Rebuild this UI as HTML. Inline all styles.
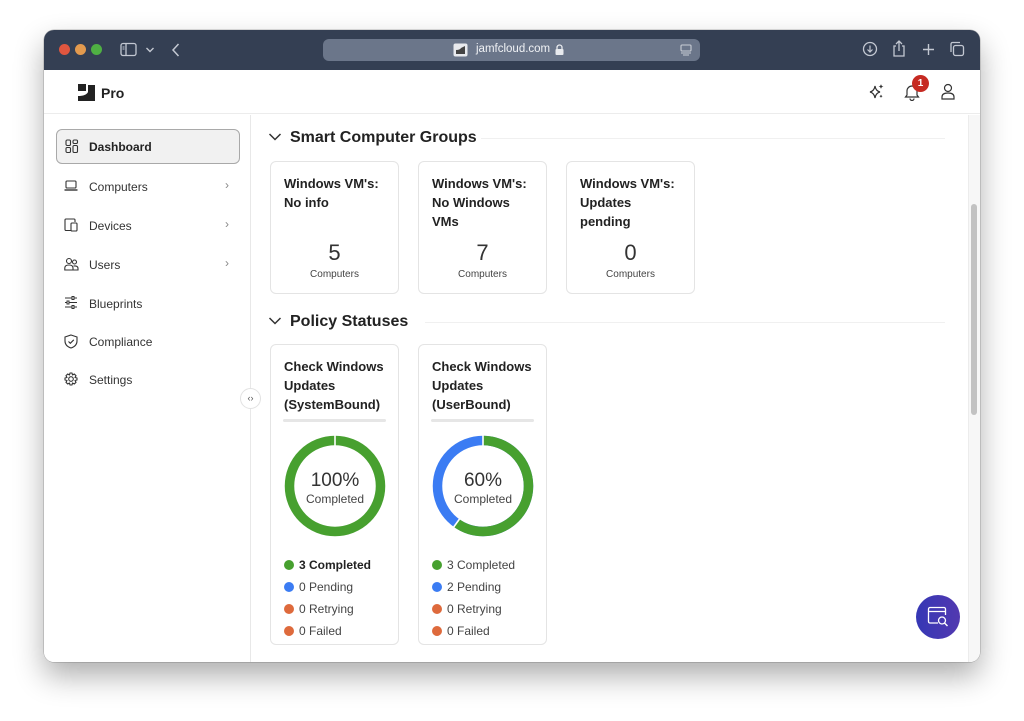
<!DOCTYPE html>
<html><head><meta charset="utf-8">
<style>
*{margin:0;padding:0;box-sizing:border-box}
html,body{width:1024px;height:721px;background:#fff;overflow:hidden;font-family:"Liberation Sans",Arial,sans-serif;color:#222}
.win{position:absolute;left:44px;top:30px;width:936px;height:632px;border-radius:10px;background:#fff;overflow:hidden;box-shadow:0 14px 30px rgba(0,0,0,0.32),0 0 0 0.5px rgba(0,0,0,0.25)}
.tb{position:absolute;left:0;top:0;width:936px;height:40px;background:#343f53}
.a{position:absolute}
.light{position:absolute;top:14px;width:11px;height:11px;border-radius:50%}
.url{position:absolute;left:279px;top:9px;width:377px;height:22px;border-radius:6px;background:#6b768a}
.hdr{position:absolute;left:0;top:40px;width:936px;height:44px;background:#fff;border-bottom:1px solid #ececec}
.side{position:absolute;left:0;top:85px;width:207px;height:547px;border-right:1px solid #e8e8e8;background:#fff}
.nav{position:absolute;left:12px;width:184px;height:35px;font-size:12px;color:#333}
.nav .t{position:absolute;left:33px;top:11px}
.nav svg.i{position:absolute;left:8px;top:10px}
.nav .ch{position:absolute;left:169px;top:9px;color:#888;font-size:12px}
.card{position:absolute;background:#fff;border:1px solid #e4e4e4;border-radius:6px}
.ct{position:absolute;left:13px;top:12px;font-size:13px;font-weight:bold;line-height:19px;color:#222;width:115px}
.num{position:absolute;left:0;width:127px;text-align:center;font-size:22px;color:#333;font-weight:300}
.cmp{position:absolute;left:0;width:127px;text-align:center;font-size:10px;color:#444}
.sec{position:absolute;font-size:16px;font-weight:bold;color:#222}
.leg{position:absolute;left:13px;font-size:12px;color:#444}
.leg span.d{display:inline-block;width:10px;height:10px;border-radius:50%;vertical-align:-1px;margin-right:5px}
</style></head><body>
<div class="win">
  <div class="tb">
    <div class="light" style="left:15px;background:#e0563f"></div>
    <div class="light" style="left:31px;background:#e39a4e"></div>
    <div class="light" style="left:47px;background:#4fb043"></div>
    <svg class="a" style="left:76px;top:12px" width="20" height="16"><rect x="1" y="1.5" width="15" height="12" rx="2" fill="none" stroke="#c3c8d2" stroke-width="1.3"/><line x1="6" y1="2" x2="6" y2="13" stroke="#c3c8d2" stroke-width="1.3"/><line x1="2.5" y1="5" x2="4.5" y2="5" stroke="#c3c8d2"/><line x1="2.5" y1="7" x2="4.5" y2="7" stroke="#c3c8d2"/></svg>
    <svg class="a" style="left:101px;top:16px" width="10" height="8"><path d="M1.5 2 L5 5.5 L8.5 2" fill="none" stroke="#c3c8d2" stroke-width="1.4"/></svg>
    <svg class="a" style="left:127px;top:12px" width="10" height="16"><path d="M7.5 2 L2 8 L7.5 14" fill="none" stroke="#c3c8d2" stroke-width="1.5"/></svg>
    <div class="url">
      <svg class="a" style="left:130px;top:4px" width="15" height="14"><rect x="0.5" y="0.5" width="14" height="13" rx="2" fill="#e8eaee"/><path d="M3 11 L3 7 Q7 7 8 5 L12 3 L12 11 Z" fill="#444"/></svg>
      <div class="a" style="left:153px;top:4px;font-size:11.5px;color:#f0f2f5">jamfcloud.com</div>
      <svg class="a" style="left:232px;top:5px" width="9" height="11"><rect x="0.5" y="5" width="8" height="6" rx="1" fill="#e8eaee"/><path d="M2 5 V3.5 A2.5 2.5 0 0 1 7 3.5 V5" fill="none" stroke="#e8eaee" stroke-width="1.3"/></svg>
      <svg class="a" style="left:357px;top:5px" width="12" height="12"><rect x="1" y="1" width="10" height="6" rx="1" fill="none" stroke="#c9cdd5" stroke-width="1.1"/><line x1="1" y1="9" x2="11" y2="9" stroke="#c9cdd5"/><line x1="3" y1="11" x2="9" y2="11" stroke="#c9cdd5"/></svg>
    </div>
    <svg class="a" style="left:818px;top:11px" width="16" height="16"><circle cx="8" cy="8" r="6.5" fill="none" stroke="#c3c8d2" stroke-width="1.3"/><path d="M8 4.5 V11 M5.5 8.5 L8 11 L10.5 8.5" fill="none" stroke="#c3c8d2" stroke-width="1.2"/></svg>
    <svg class="a" style="left:848px;top:9px" width="14" height="19"><path d="M4 7 H2 V17 H12 V7 H10" fill="none" stroke="#c3c8d2" stroke-width="1.3"/><path d="M7 12 V2 M4 5 L7 2 L10 5" fill="none" stroke="#c3c8d2" stroke-width="1.3"/></svg>
    <svg class="a" style="left:878px;top:13px" width="13" height="13"><path d="M6.5 1 V12 M1 6.5 H12" stroke="#c3c8d2" stroke-width="1.4"/></svg>
    <svg class="a" style="left:905px;top:11px" width="16" height="16"><rect x="4.5" y="4.5" width="10" height="10" rx="2" fill="none" stroke="#c3c8d2" stroke-width="1.3"/><path d="M2 11 V3 A1.5 1.5 0 0 1 3.5 1.5 H11" fill="none" stroke="#c3c8d2" stroke-width="1.3"/></svg>
  </div>
  <div class="hdr">
    <svg class="a" style="left:34px;top:14px" width="18" height="17"><path d="M0 0 H8 V7 H0 Z" fill="#222"/><path d="M10 1 H17 V17 H0 V12 Q8 12 10 8 Z" fill="#222"/></svg>
    <div class="a" style="left:57px;top:15px;font-size:14px;font-weight:bold;color:#222">Pro</div>
    <svg class="a" style="left:824px;top:13px" width="17" height="17"><path d="M7 3 Q7.8 8 12 9 Q7.8 10 7 15 Q6.2 10 2 9 Q6.2 8 7 3Z" fill="none" stroke="#333" stroke-width="1.2"/><path d="M13 1 Q13.3 3.2 15.5 3.5 Q13.3 3.8 13 6 Q12.7 3.8 10.5 3.5 Q12.7 3.2 13 1Z" fill="#333"/><path d="M13 11.5 Q13.2 13 14.5 13.2 Q13.2 13.5 13 15 Q12.8 13.5 11.5 13.2 Q12.8 13 13 11.5Z" fill="#333"/></svg>
    <svg class="a" style="left:860px;top:13px" width="16" height="18"><path d="M3 12 V8 A5 5 0 0 1 13 8 V12 L14.5 14 H1.5 Z" fill="none" stroke="#333" stroke-width="1.2"/><path d="M6 15.5 A2 2 0 0 0 10 15.5" fill="none" stroke="#333" stroke-width="1.2"/></svg>
    <div class="a" style="left:868px;top:5px;width:17px;height:17px;border-radius:50%;background:#c62a22;color:#fff;font-size:10px;font-weight:bold;text-align:center;line-height:17px">1</div>
    <svg class="a" style="left:897px;top:13px" width="14" height="17"><circle cx="7" cy="5" r="3.5" fill="none" stroke="#333" stroke-width="1.2"/><path d="M1 16 V14 Q1 10 7 10 Q13 10 13 14 V16 Z" fill="none" stroke="#333" stroke-width="1.2"/></svg>
  </div>
  <div class="side">
    <div class="nav" style="top:14px;background:#f1f1f1;border:1px solid #a9a9a9;border-radius:6px">
      <svg class="i" style="top:9px;left:8px" width="14" height="15"><rect x="1" y="1" width="4.5" height="5.5" rx="1.2" fill="none" stroke="#333" stroke-width="1.1"/><rect x="8" y="1" width="4.5" height="3.5" rx="1.2" fill="none" stroke="#333" stroke-width="1.1"/><rect x="1" y="8.5" width="4.5" height="5" rx="1.2" fill="none" stroke="#333" stroke-width="1.1"/><rect x="8" y="6.5" width="4.5" height="7" rx="1.2" fill="none" stroke="#333" stroke-width="1.1"/></svg>
      <div class="t" style="left:32px;top:10px;font-weight:bold;color:#222">Dashboard</div>
    </div>
    <div class="nav" style="top:54px">
      <svg class="i" width="14" height="13"><rect x="2" y="2" width="10" height="7" rx="1" fill="none" stroke="#333" stroke-width="1.1"/><path d="M0.5 11 H13.5" stroke="#333" stroke-width="1.4"/></svg>
      <div class="t">Computers</div><div class="ch">›</div>
    </div>
    <div class="nav" style="top:93px">
      <svg class="i" width="14" height="14"><path d="M7 12.5 H2 A1 1 0 0 1 1 11.5 V2 A1 1 0 0 1 2 1 H10 A1 1 0 0 1 11 2 V4" fill="none" stroke="#333" stroke-width="1.1"/><rect x="7" y="5" width="6" height="8" rx="1" fill="none" stroke="#333" stroke-width="1.1"/></svg>
      <div class="t">Devices</div><div class="ch">›</div>
    </div>
    <div class="nav" style="top:132px">
      <svg class="i" width="15" height="14"><circle cx="5" cy="4" r="2.5" fill="none" stroke="#333" stroke-width="1.1"/><path d="M0.8 13 V11 Q0.8 8 5 8 Q9 8 9 11 V13 Z" fill="none" stroke="#333" stroke-width="1.1"/><circle cx="10.5" cy="5" r="2" fill="none" stroke="#333" stroke-width="1.1"/><path d="M9.5 9 Q14 8.5 14 11.5 V13 H9" fill="none" stroke="#333" stroke-width="1.1"/></svg>
      <div class="t">Users</div><div class="ch">›</div>
    </div>
    <div class="nav" style="top:171px">
      <svg class="i" width="14" height="13"><path d="M1 2 H13 M1 6.5 H13 M1 11 H13" stroke="#333" stroke-width="1.1"/><rect x="8" y="0.5" width="2" height="3" fill="#fff" stroke="#333"/><rect x="3" y="5" width="2" height="3" fill="#fff" stroke="#333"/><rect x="8" y="9.5" width="2" height="3" fill="#fff" stroke="#333"/></svg>
      <div class="t">Blueprints</div>
    </div>
    <div class="nav" style="top:209px">
      <svg class="i" width="14" height="15"><path d="M7 1 L13 3 V7 Q13 12 7 14 Q1 12 1 7 V3 Z" fill="none" stroke="#333" stroke-width="1.1"/><path d="M4.5 7.5 L6.3 9.3 L9.8 5.8" fill="none" stroke="#333" stroke-width="1.1"/></svg>
      <div class="t">Compliance</div>
    </div>
    <div class="nav" style="top:247px">
      <svg class="i" width="14" height="14"><circle cx="7" cy="7" r="2.3" fill="none" stroke="#333" stroke-width="1.1"/><path d="M6 1 H8 L8.5 3 L10.3 2 L12 3.7 L11 5.5 L13 6 V8 L11 8.5 L12 10.3 L10.3 12 L8.5 11 L8 13 H6 L5.5 11 L3.7 12 L2 10.3 L3 8.5 L1 8 V6 L3 5.5 L2 3.7 L3.7 2 L5.5 3 Z" fill="none" stroke="#333" stroke-width="1.1" stroke-linejoin="round"/></svg>
      <div class="t">Settings</div>
    </div>
  </div>
  <div class="a" style="left:196px;top:358px;width:21px;height:21px;border-radius:50%;background:#fff;border:1px solid #e2e2e2;font-size:9px;color:#555;text-align:center;line-height:19px">‹›</div>

  <!-- content -->
  <svg class="a" style="left:224px;top:102px" width="14" height="10"><path d="M1.5 2 L7 7.5 L12.5 2" fill="none" stroke="#333" stroke-width="1.5"/></svg>
  <div class="sec" style="left:246px;top:99px">Smart Computer Groups</div>
  <div class="a" style="left:437px;top:108px;width:464px;height:1px;background:#f0f0f0"></div>

  <div class="card" style="left:226px;top:131px;width:129px;height:133px">
    <div class="ct">Windows VM's:<br>No info</div>
    <div class="num" style="top:78px">5</div><div class="cmp" style="top:107px">Computers</div>
  </div>
  <div class="card" style="left:374px;top:131px;width:129px;height:133px">
    <div class="ct">Windows VM's:<br>No Windows<br>VMs</div>
    <div class="num" style="top:78px">7</div><div class="cmp" style="top:107px">Computers</div>
  </div>
  <div class="card" style="left:522px;top:131px;width:129px;height:133px">
    <div class="ct">Windows VM's:<br>Updates<br>pending</div>
    <div class="num" style="top:78px">0</div><div class="cmp" style="top:107px">Computers</div>
  </div>

  <svg class="a" style="left:224px;top:286px" width="14" height="10"><path d="M1.5 2 L7 7.5 L12.5 2" fill="none" stroke="#333" stroke-width="1.5"/></svg>
  <div class="sec" style="left:246px;top:283px">Policy Statuses</div>
  <div class="a" style="left:381px;top:292px;width:520px;height:1px;background:#f0f0f0"></div>

  <div class="card" style="left:226px;top:314px;width:129px;height:301px">
    <div class="ct">Check Windows<br>Updates<br>(SystemBound)</div>
    <div class="a" style="left:12px;top:74px;width:103px;height:3px;background:#e6e6e6;border-radius:2px"></div>
    <svg class="a" style="left:8px;top:86px" width="112" height="110">
      <circle cx="56" cy="55" r="45.5" fill="none" stroke="#47a02f" stroke-width="9.5"/>
      <line x1="56" y1="4" x2="56" y2="15" stroke="#fff" stroke-width="1.6"/>
      <text x="56" y="55" text-anchor="middle" font-family="Liberation Sans, Arial, sans-serif" font-size="19" fill="#333">100%</text>
      <text x="56" y="72" text-anchor="middle" font-family="Liberation Sans, Arial, sans-serif" font-size="12" fill="#444">Completed</text>
    </svg>
    <div class="leg" style="top:213px;font-weight:bold;color:#222"><span class="d" style="background:#47a02f"></span>3 Completed</div>
    <div class="leg" style="top:235px"><span class="d" style="background:#3b7cf3"></span>0 Pending</div>
    <div class="leg" style="top:257px"><span class="d" style="background:#de6a3c"></span>0 Retrying</div>
    <div class="leg" style="top:279px"><span class="d" style="background:#de6a3c"></span>0 Failed</div>
  </div>

  <div class="card" style="left:374px;top:314px;width:129px;height:301px">
    <div class="ct">Check Windows<br>Updates<br>(UserBound)</div>
    <div class="a" style="left:12px;top:74px;width:103px;height:3px;background:#e6e6e6;border-radius:2px"></div>
    <svg class="a" style="left:8px;top:86px" width="112" height="110">
      <circle cx="56" cy="55" r="45.5" fill="none" stroke="#3b7cf3" stroke-width="9.5"/>
      <circle cx="56" cy="55" r="45.5" fill="none" stroke="#47a02f" stroke-width="9.5" stroke-dasharray="171.5 400" transform="rotate(-90 56 55)"/>
      <line x1="56" y1="4" x2="56" y2="15" stroke="#fff" stroke-width="1.6"/>
      <line x1="32.5" y1="88" x2="26" y2="97" stroke="#fff" stroke-width="1.6"/>
      <text x="56" y="55" text-anchor="middle" font-family="Liberation Sans, Arial, sans-serif" font-size="19" fill="#333">60%</text>
      <text x="56" y="72" text-anchor="middle" font-family="Liberation Sans, Arial, sans-serif" font-size="12" fill="#444">Completed</text>
    </svg>
    <div class="leg" style="top:213px"><span class="d" style="background:#47a02f"></span>3 Completed</div>
    <div class="leg" style="top:235px"><span class="d" style="background:#3b7cf3"></span>2 Pending</div>
    <div class="leg" style="top:257px"><span class="d" style="background:#de6a3c"></span>0 Retrying</div>
    <div class="leg" style="top:279px"><span class="d" style="background:#de6a3c"></span>0 Failed</div>
  </div>

  <!-- scrollbar -->
  <div class="a" style="left:924px;top:85px;width:12px;height:547px;background:#f7f7f7;border-left:1px solid #ececec"></div>
  <div class="a" style="left:927px;top:174px;width:6px;height:211px;background:#c2c2c2;border-radius:3px"></div>

  <!-- FAB -->
  <div class="a" style="left:872px;top:565px;width:44px;height:44px;border-radius:50%;background:linear-gradient(90deg,#3537b5,#5239b0)"></div>
  <svg class="a" style="left:882px;top:575px" width="24" height="24"><path d="M12 18 H4 A1.5 1.5 0 0 1 2.5 16.5 V4 A1.5 1.5 0 0 1 4 2.5 H18 A1.5 1.5 0 0 1 19.5 4 V10" fill="none" stroke="#fff" stroke-width="1.3"/><line x1="2.5" y1="6.5" x2="19.5" y2="6.5" stroke="#fff" stroke-width="1.3"/><circle cx="16" cy="15.5" r="3.5" fill="none" stroke="#fff" stroke-width="1.3"/><line x1="18.5" y1="18" x2="21.5" y2="21" stroke="#fff" stroke-width="1.4"/></svg>
</div>
</body></html>
